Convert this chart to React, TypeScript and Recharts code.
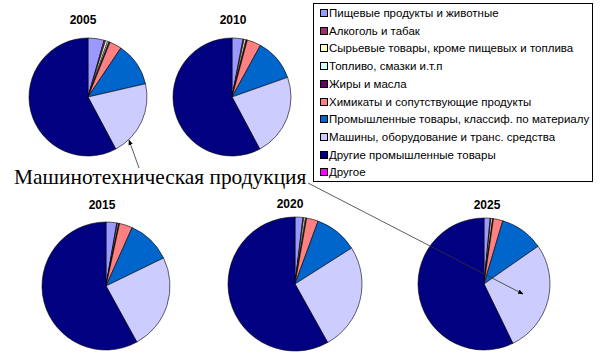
import React from "react";
import { PieChart, Pie, Cell } from "recharts";

const categories = [
  "Пищевые продукты и животные",
  "Алкоголь и табак",
  "Сырьевые товары, кроме пищевых и топлива",
  "Топливо, смазки и.т.п",
  "Жиры и масла",
  "Химикаты и сопутствующие продукты",
  "Промышленные товары, классиф. по материалу",
  "Машины, оборудование и транс. средства",
  "Другие промышленные товары",
  "Другое",
];

const colors = [
  "#9999FF",
  "#993366",
  "#FFFFCC",
  "#CCFFFF",
  "#660066",
  "#FF8080",
  "#0066CC",
  "#CCCCFF",
  "#000080",
  "#FF00FF",
];

const years = ["2005", "2010", "2015", "2020", "2025"];

const values2005 = [4.4, 0.4, 0.6, 0.4, 0.3, 3.3, 12.0, 20.8, 57.8, 0];
const values2010 = [3.0, 0.3, 0.5, 0.2, 0.2, 3.8, 11.6, 22.6, 57.8, 0];
const values2015 = [2.7, 0.2, 0.3, 0.1, 0.1, 3.3, 11.1, 24.2, 58.0, 0];
const values2020 = [1.9, 0.2, 0.4, 0.2, 0.1, 2.8, 10.4, 25.9, 58.1, 0];
const values2025 = [1.5, 0.2, 0.4, 0.1, 0.1, 2.3, 10.7, 27.5, 57.2, 0];

const annotation = "Машинотехническая продукция";

const seriesValues = [values2005, values2010, values2015, values2020, values2025];

const layout = [
  { cx: 88, cy: 97, r: 59, tx: 83, ty: 20 },
  { cx: 232, cy: 97, r: 59, tx: 233, ty: 20 },
  { cx: 106, cy: 286, r: 64, tx: 102, ty: 205 },
  { cx: 295, cy: 284, r: 67, tx: 290, ty: 204 },
  { cx: 484, cy: 284, r: 66, tx: 487, ty: 205 },
];

export default function App() {
  const W = 600;
  const H = 357;
  return (
    <div
      style={{
        position: "absolute",
        left: 0,
        top: 0,
        width: W,
        height: H,
        background: "#fff",
        fontFamily: "'Liberation Sans', Arial, sans-serif",
      }}
    >
      <PieChart width={W} height={H} margin={{ top: 0, right: 0, bottom: 0, left: 0 }}>
        {years.map((y, i) => {
          const data = categories.map((c, k) => ({ name: c, value: seriesValues[i][k] }));
          const L = layout[i];
          return (
            <Pie
              key={y}
              data={data}
              dataKey="value"
              nameKey="name"
              cx={L.cx}
              cy={L.cy}
              outerRadius={L.r}
              innerRadius={0}
              startAngle={90}
              endAngle={-270}
              stroke="#000"
              strokeWidth={0.6}
              isAnimationActive={false}
              label={false}
              labelLine={false}
            >
              {data.map((d, k) => (
                <Cell key={k} fill={colors[k]} />
              ))}
            </Pie>
          );
        })}
      </PieChart>

      {years.map((y, i) => (
        <div
          key={"t" + y}
          style={{
            position: "absolute",
            left: layout[i].tx - 30,
            top: layout[i].ty - 8,
            width: 60,
            textAlign: "center",
            fontWeight: "bold",
            fontSize: 12,
            lineHeight: "16px",
            color: "#000",
          }}
        >
          {y}
        </div>
      ))}

      <div
        style={{
          position: "absolute",
          left: 313,
          top: 3,
          width: 280,
          height: 179,
          border: "1px solid #000",
          background: "#fff",
          boxSizing: "border-box",
        }}
      >
        {categories.map((c, k) => (
          <div
            key={c}
            style={{
              position: "absolute",
              left: 6,
              top: 12 + k * 17.7 - 8 - 3,
              height: 16,
              display: "flex",
              alignItems: "center",
              fontSize: 11.5,
              whiteSpace: "nowrap",
              color: "#000",
            }}
          >
            <span
              style={{
                display: "inline-block",
                width: 6,
                height: 6,
                background: colors[k],
                border: "1px solid #000",
                marginRight: 1,
              }}
            />
            {c}
          </div>
        ))}
      </div>

      <div
        style={{
          position: "absolute",
          left: 14,
          top: 164,
          fontFamily: "'Liberation Serif', 'Times New Roman', serif",
          fontSize: 21.4,
          lineHeight: "26px",
          whiteSpace: "nowrap",
          color: "#000",
        }}
      >
        {annotation}
      </div>

      <svg
        width={W}
        height={H}
        style={{ position: "absolute", left: 0, top: 0, pointerEvents: "none" }}
      >
        <defs>
          <marker
            id="arr"
            viewBox="0 0 10 10"
            refX="9"
            refY="5"
            markerWidth="7"
            markerHeight="7"
            orient="auto"
          >
            <path d="M0,1 L10,5 L0,9 z" fill="#000" />
          </marker>
        </defs>
        <line x1={139} y1={168} x2={129} y2={140} stroke="#333" strokeWidth={0.8} markerEnd="url(#arr)" />
        <line x1={308} y1={183} x2={523} y2={294} stroke="#333" strokeWidth={0.8} markerEnd="url(#arr)" />
      </svg>
    </div>
  );
}
